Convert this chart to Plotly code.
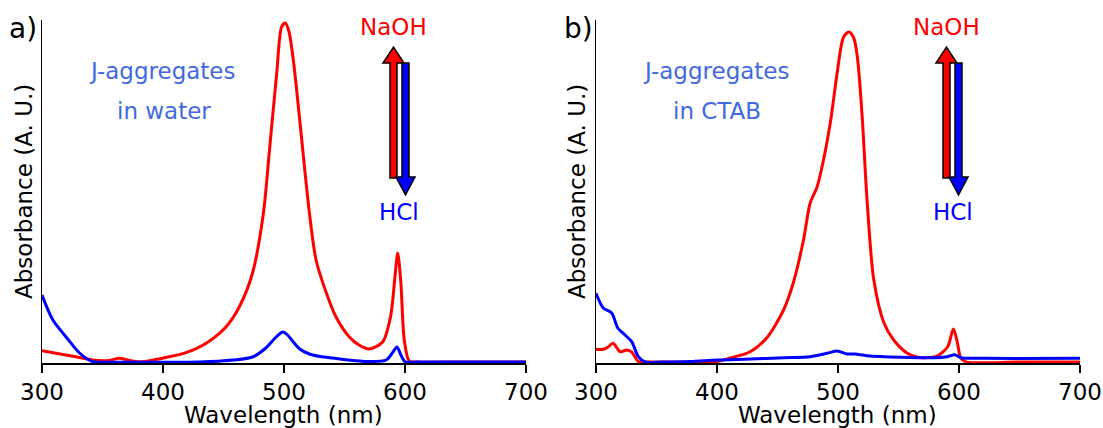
import plotly.graph_objects as go

# ---------------- data (absorbance, arbitrary units) ----------------
wl_water_naoh = [300, 315, 329, 342, 355, 364, 372, 381, 392, 403, 419, 436, 452, 463, 474, 483, 488,
                 494, 498, 501, 504, 508, 513, 521, 526.5, 535, 543, 554, 562, 570.5, 581.5, 588, 592,
                 594, 596.6, 599.4, 603.5, 610, 650, 700]
abs_water_naoh = [12.3, 9, 6, 3, 2.5, 4.7, 2.5, 1.3, 3, 5.7, 10.3, 20, 36, 56, 90, 150, 213,
                  290, 336, 340, 332, 300, 243, 150, 103, 70, 46, 26, 18, 14, 21, 46, 90,
                  110, 80, 23, 2, 1, 1, 1]

wl_water_hcl = [300, 309, 320.6, 331, 342, 350, 380, 430, 458, 474, 485, 493.5, 499, 503, 507, 513,
                521, 530, 540, 568, 584.5, 589.5, 593.3, 596.6, 600, 610, 700]
abs_water_hcl = [68, 43, 25, 10, 1.2, 0.8, 0.8, 1, 3, 6, 15, 26, 31, 28, 22, 14,
                 9, 6.5, 5, 1.5, 3, 10, 16, 8, 1.2, 1, 1]

wl_ctab_naoh = [300, 306, 310, 314, 320, 325.4, 329.5, 335, 340, 360, 400, 411, 427.5, 441, 455, 463,
                471.5, 477, 482.7, 488, 494, 499.3, 504.6, 509, 513, 516, 520, 524, 529.6, 538, 546,
                557, 565.6, 575, 582, 590.5, 595.4, 598.7, 601.5, 605.6, 650, 700]
abs_ctab_naoh = [13.7, 13.7, 16, 19.7, 11.3, 13, 11, 1.5, 1, 1, 1.5, 5, 11.3, 25, 53, 80,
                 123, 160, 176, 203, 243, 290, 326, 331, 325, 306, 246, 163, 83, 40, 23,
                 10, 5.7, 5.5, 7, 16, 34, 20, 5, 1.2, 1, 1]

wl_ctab_hcl = [300, 306, 313, 318, 324, 329.5, 335, 340.6, 355.6, 378, 400, 427.5, 455, 477, 491, 499.3,
               507.6, 514, 524, 551.8, 579, 590.5, 596.5, 601.5, 620, 700]
abs_ctab_hcl = [69.7, 55, 50, 35, 28, 21.3, 6.3, 1, 1, 1.5, 3, 4, 5.3, 6.3, 9.7, 12,
                9, 9, 7.3, 5.7, 5.3, 6.3, 8.3, 5.3, 4.7, 4.7]

x_ticks = [300, 400, 500, 600, 700]

RED = "#ff0000"
BLUE = "#0000ff"
LBLUE = "#4169e1"
FONT = "DejaVu Sans"

W, H = 1103, 428
L, R, T, B = 42, 23, 20, 65
PW, PH = W - L - R, H - T - B


def px(x):
    return (x - L) / PW


def py(y):
    return (H - B - y) / PH


fig = go.Figure()
series = [
    (wl_water_naoh, abs_water_naoh, RED, "x", "y"),
    (wl_water_hcl, abs_water_hcl, BLUE, "x", "y"),
    (wl_ctab_naoh, abs_ctab_naoh, RED, "x2", "y2"),
    (wl_ctab_hcl, abs_ctab_hcl, BLUE, "x2", "y2"),
]
for xs, ys, c, xa, ya in series:
    fig.add_trace(go.Scatter(x=xs, y=ys, mode="lines", xaxis=xa, yaxis=ya,
                             line=dict(color=c, width=3, shape="spline", smoothing=0.8),
                             showlegend=False, hoverinfo="skip"))

xcommon = dict(range=[300, 700], tickvals=x_ticks, ticks="outside", ticklen=8, tickwidth=2,
               tickcolor="black", showline=True, linecolor="black", linewidth=1.5,
               showgrid=False, zeroline=False, automargin=False,
               tickfont=dict(size=23, color="black", family=FONT))
ycommon = dict(range=[0, 343], showline=True, linecolor="black", linewidth=1.5,
               showgrid=False, zeroline=False, showticklabels=False, ticks="", automargin=False)

fig.update_layout(
    width=W, height=H,
    margin=dict(l=L, r=R, t=T, b=B, autoexpand=False),
    paper_bgcolor="white", plot_bgcolor="white",
    font=dict(family=FONT, color="black", size=23),
    xaxis=dict(domain=[0, (526 - L) / PW], anchor="y", **xcommon),
    yaxis=dict(domain=[0, 1], anchor="x", **ycommon),
    xaxis2=dict(domain=[(596 - L) / PW, 1], anchor="y2", **xcommon),
    yaxis2=dict(domain=[0, 1], anchor="x2", **ycommon),
)

ann = []


def text(t, x, y, size=23, color="black", angle=0, yanchor="middle"):
    ann.append(dict(text=t, x=px(x), y=py(y), xref="paper", yref="paper", showarrow=False,
                    xanchor="center", yanchor=yanchor, textangle=angle,
                    font=dict(size=size, color=color, family=FONT)))


text("a)", 23, 28, size=28)
text("b)", 578, 28, size=28)
text("J-aggregates", 162, 71, color=LBLUE)
text("in water", 164, 111, color=LBLUE)
text("J-aggregates", 716, 71, color=LBLUE)
text("in CTAB", 717, 111, color=LBLUE)
text("NaOH", 393, 27, color=RED)
text("HCl", 399, 212, color=BLUE)
text("NaOH", 946, 27, color=RED)
text("HCl", 953, 212, color=BLUE)
text("Absorbance (A. U.)", 24, 192, angle=-90)
text("Absorbance (A. U.)", 577, 192, angle=-90)
text("Wavelength (nm)", 283, 430, yanchor="bottom")
text("Wavelength (nm)", 837, 430, yanchor="bottom")
fig.update_layout(annotations=ann)


def path(pts):
    return "M " + " L ".join(f"{px(a):.5f},{py(b):.5f}" for a, b in pts) + " Z"


shapes = []
for dx in (0, 553):
    up = [(390 + dx, 178), (390 + dx, 63), (383 + dx, 63), (393.5 + dx, 47), (404 + dx, 63),
          (397 + dx, 63), (397 + dx, 178)]
    down = [(402 + dx, 63), (409 + dx, 63), (409 + dx, 177), (415 + dx, 177), (405.5 + dx, 195),
            (396 + dx, 177), (402 + dx, 177)]
    shapes.append(dict(type="path", path=path(up), xref="paper", yref="paper",
                       fillcolor=RED, line=dict(color="black", width=1.5)))
    shapes.append(dict(type="path", path=path(down), xref="paper", yref="paper",
                       fillcolor=BLUE, line=dict(color="black", width=1.5)))
fig.update_layout(shapes=shapes)

fig.write_html("out.html", config={"displayModeBar": False, "staticPlot": True},
               post_script="document.body.style.margin='0';document.body.style.overflow='hidden';")
